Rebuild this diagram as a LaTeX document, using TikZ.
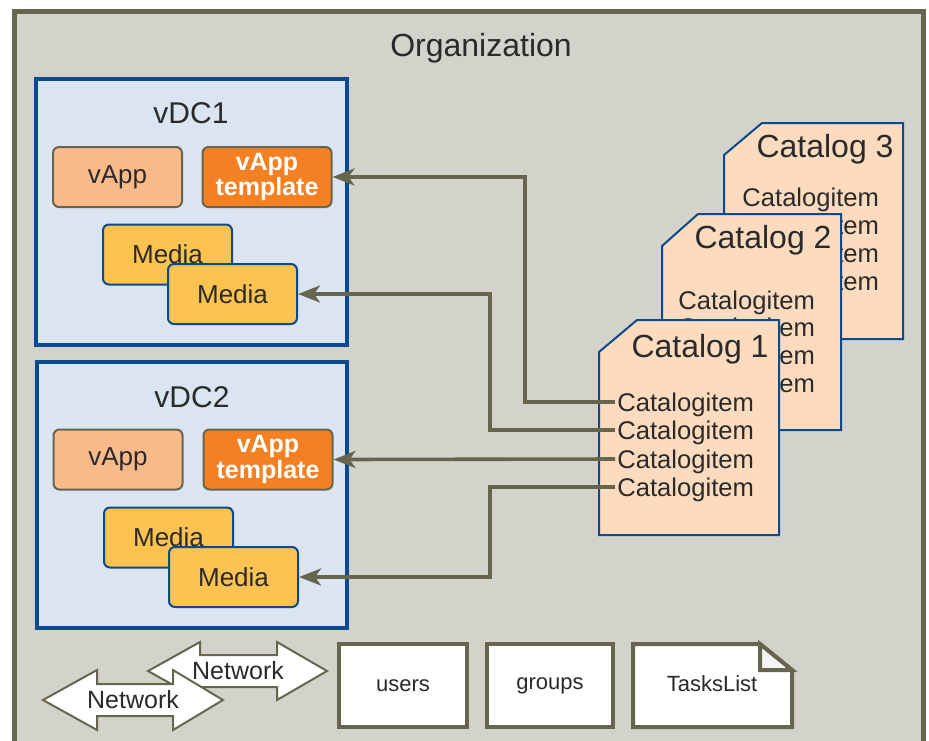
\documentclass[tikz,border=0pt]{standalone}
\usepackage{fontspec}
\setmainfont{Liberation Sans}
\usetikzlibrary{arrows.meta}
\definecolor{orggris}{HTML}{D3D3CB}
\definecolor{orgborde}{HTML}{66664F}
\definecolor{vdcfondo}{HTML}{DAE5F1}
\definecolor{vdcborde}{HTML}{0B4A8D}
\definecolor{vappfondo}{HTML}{FBBA8A}
\definecolor{naranja}{HTML}{F48024}
\definecolor{mediafondo}{HTML}{FDC350}
\definecolor{catfondo}{HTML}{FDDBBE}
\definecolor{texto}{HTML}{2A2A2A}

\begin{document}
\begin{tikzpicture}[x=0.5pt, y=-0.5pt,
		every node/.style={text=texto},
		titulo/.style={font=\fontsize{15}{18}\selectfont},
		cajavapp/.style={draw=orgborde, line width=1pt, fill=vappfondo, rounded corners=3pt,
			minimum width=64.5pt, minimum height=30pt, inner sep=0pt, font=\fontsize{13}{15}\selectfont},
		cajaplantilla/.style={cajavapp, fill=naranja, text=white, align=center,
			font=\bfseries\fontsize{12.5}{10.5}\selectfont},
		cajamedia/.style={cajavapp, draw=vdcborde, fill=mediafondo},
		cattitulo/.style={font=\fontsize{16}{19}\selectfont},
		item/.style={anchor=west, inner sep=1pt, font=\fontsize{12.8}{15}\selectfont},
		enlace/.style={orgborde, line width=1.8pt, -{Stealth[length=11pt, width=8.5pt, inset=3pt]}},
		caja/.style={draw=orgborde, line width=2pt, fill=white, minimum height=41.5pt,
			inner sep=0pt, font=\fontsize{11}{13}\selectfont},
		flechared/.style={draw=orgborde, line width=1pt, fill=white, line join=miter},
		red/.style={font=\fontsize{12.5}{15}\selectfont}]
		\useasboundingbox (0,0) rectangle (929,740);
		\clip (0,0) rectangle (929,740);
		
		% Organizacion (marco)
		\draw[orgborde, line width=2.5pt, fill=orggris] (14,11) rectangle (923,780);
		\node[font=\fontsize{16}{19}\selectfont] (org) at (481,48) {Organization};
		
		% vDC1
		\draw[vdcborde, line width=1.6pt, fill=vdcfondo] (36,79) rectangle (347,345);
		\node[titulo] (vdcA) at (191,113) {vDC1};
		\node[cajavapp] (vappA) at (117.5,177) {vApp};
		\node[cajaplantilla] (tplA) at (267,177) {vApp\\template};
		\node[cajamedia] (medA) at (167.5,254.5) {Media};
		\node[cajamedia] (medAf) at (232.5,294) {Media};
		
		% vDC2
		\draw[vdcborde, line width=1.6pt, fill=vdcfondo] (37,362) rectangle (347,628);
		\node[titulo] (vdcB) at (192,397) {vDC2};
		\node[cajavapp] (vappB) at (118,459.5) {vApp};
		\node[cajaplantilla] (tplB) at (268,459.5) {vApp\\template};
		\node[cajamedia] (medB) at (168.5,537.5) {Media};
		\node[cajamedia] (medBf) at (233.5,577) {Media};
		
		% Catalogo 3
		\draw[vdcborde, line width=1pt, fill=catfondo] (762,123) -- (903,123) -- (903,339) -- (724,339) -- (724,155) -- cycle;
		\node[cattitulo] (catC) at (825,149) {Catalog 3};
		\foreach \y [count=\i] in {200,228,256,284}
			\node[item] (c3i\i) at (740,\y) {Catalogitem};
		
		% Catalogo 2
		\draw[vdcborde, line width=1pt, fill=catfondo] (698,214) -- (841,214) -- (841,430) -- (662,430) -- (662,246) -- cycle;
		\node[cattitulo] (catB) at (763,240) {Catalog 2};
		\foreach \y [count=\i] in {303,330,358,386}
			\node[item] (c2i\i) at (676,\y) {Catalogitem};
		
		% Catalogo 1
		\draw[vdcborde, line width=1pt, fill=catfondo] (637,320) -- (779,320) -- (779,535) -- (599,535) -- (599,352) -- cycle;
		\node[cattitulo] (catA) at (700,349) {Catalog 1};
		\foreach \y [count=\i] in {405,433,462,490}
			\node[item] (c1i\i) at (615,\y) {Catalogitem};
		
		% Enlaces catalogo -> vDC
		\draw[enlace] (c1i1.west) ++(0,-3) -- ++(-90,0) |- (tplA.east);
		\draw[enlace] (c1i2.west) ++(0,-3) -- ++(-125,0) |- (medAf.east);
		\draw[enlace] (c1i3.west) ++(0,-3) -- (tplB.east);
		\draw[enlace] (c1i4.west) ++(0,-3) -- ++(-125,0) |- (medBf.east);
		
		% Redes
		\draw[flechared] (148,671) -- (200,642) -- (200,655) -- (277,655) -- (277,642) -- (327,671)
			-- (277,700) -- (277,687) -- (200,687) -- (200,700) -- cycle;
		\node[red] (redA) at (238,671) {Network};
		\draw[flechared] (43,700) -- (97,670) -- (97,684) -- (173,684) -- (173,670) -- (223,700)
			-- (173,730) -- (173,716) -- (97,716) -- (97,730) -- cycle;
		\node[red] (redB) at (133,700) {Network};
		
		% users, groups, TasksList
		\node[caja, minimum width=64pt] (usuarios) at (403,685.5) {users};
		\node[caja, minimum width=63pt] (grupos) at (550,685.5) {groups};
		\draw[orgborde, line width=2pt, fill=white] (633,644) -- (760,644) -- (792,670) -- (792,727) -- (633,727) -- cycle;
		\draw[orgborde, line width=2pt, fill=gray!8] (760,644) -- (760,670) -- (792,670) -- cycle;
		\node[font=\fontsize{11}{13}\selectfont] (tareas) at (712,684) {TasksList};
	\end{tikzpicture}
\end{document}
